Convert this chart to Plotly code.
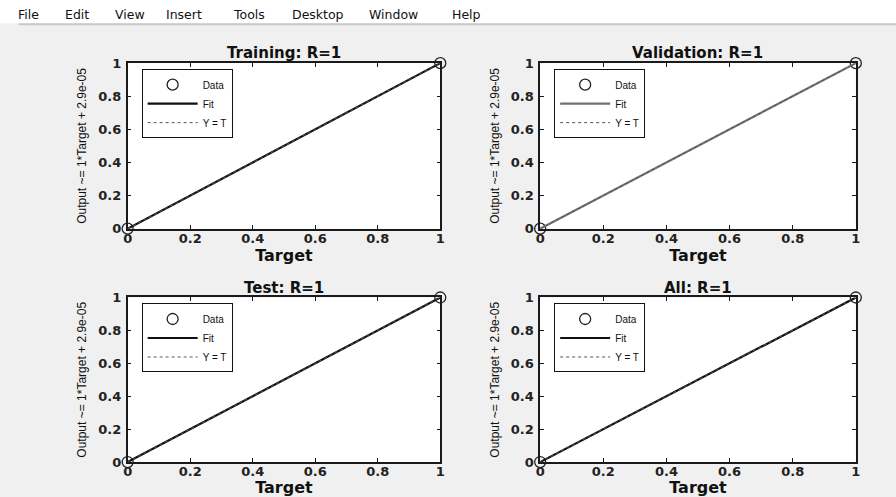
import plotly.graph_objects as go

# ---- data ----
panel_titles = ["Training: R=1", "Validation: R=1", "Test: R=1", "All: R=1"]
targets = [0, 1]
outputs = [0, 1]
fit_x = [0, 1]
fit_y = [2.9e-05, 1.000029]
yt_x = [0, 1]
yt_y = [0, 1]
fit_colors = ["#111111", "#707070", "#111111", "#111111"]
tick_vals = [0, 0.2, 0.4, 0.6, 0.8, 1]
tick_text = ["0", "0.2", "0.4", "0.6", "0.8", "1"]
y_label = "Output ~= 1*Target + 2.9e-05"
x_label = "Target"
menu_items = ["File", "Edit", "View", "Insert", "Tools", "Desktop", "Window", "Help"]
menu_x_px = [15, 62, 112, 163, 230, 290, 367, 450]

W, H = 896, 497

# panel pixel boxes (left, right, top, bottom) in the target picture
boxes = [(127, 440, 63, 229), (540, 856, 63, 229),
         (127, 440, 298, 463), (540, 856, 298, 463)]

# calibration of the plotting area as it is photographed
SX, OX = 0.990, 4.2
SY, OY = 0.9725, 6.7

def px_x(p):
    return ((p - OX) / SX) / W

def px_y(p):
    return (H - (p - OY) / SY) / H

fig = go.Figure()
layout = dict(
    width=W, height=H,
    margin=dict(l=0, r=0, t=0, b=0),
    paper_bgcolor="#f0f0f0",
    plot_bgcolor="white",
    showlegend=True,
)

tick_font = dict(family="DejaVu Sans", size=13, color="#222222", weight="bold")
annotations = []
shapes = []

for i, (l, r, t, b) in enumerate(boxes):
    n = i + 1
    sx = "" if n == 1 else str(n)
    leg = "legend" if n == 1 else "legend%d" % n
    xa, ya = "x" + sx, "y" + sx
    fig.add_trace(go.Scatter(
        x=targets, y=outputs, mode="markers", name="Data",
        marker=dict(symbol="circle-open", size=11, color="#222222",
                    line=dict(width=1.3)),
        cliponaxis=False, xaxis=xa, yaxis=ya, legend=leg))
    fig.add_trace(go.Scatter(
        x=fit_x, y=fit_y, mode="lines", name="Fit",
        line=dict(color=fit_colors[i], width=2.2),
        cliponaxis=False, xaxis=xa, yaxis=ya, legend=leg))
    fig.add_trace(go.Scatter(
        x=yt_x, y=yt_y, mode="lines", name="Y = T",
        line=dict(color="#555555", width=1, dash="dot"),
        cliponaxis=False, xaxis=xa, yaxis=ya, legend=leg))

    axis_common = dict(
        range=[0, 1], tickvals=tick_vals, ticktext=tick_text,
        showline=True, linecolor="#1a1a1a", linewidth=1.5, mirror="ticks",
        ticks="inside", ticklen=4, tickcolor="#1a1a1a", tickwidth=1,
        showgrid=False, zeroline=False, tickfont=tick_font,
    )
    layout["xaxis" + sx] = dict(
        axis_common, domain=[px_x(l), px_x(r)], anchor=ya,
        ticklabelstandoff=-3,
        title=dict(text=x_label, standoff=0,
                   font=dict(family="DejaVu Sans", size=16, color="#111111", weight="bold")))
    layout["yaxis" + sx] = dict(
        axis_common, domain=[px_y(b), px_y(t)], anchor=xa,
        ticklabelstandoff=2,
        title=dict(text=y_label, standoff=9,
                   font=dict(family="Liberation Sans Narrow, Liberation Sans, Arial, sans-serif",
                             size=12, color="#111111")))
    layout[leg] = dict(
        x=px_x(l + 14), y=px_y(t + 6), xanchor="left", yanchor="top",
        bgcolor="white", bordercolor="#111111", borderwidth=1,
        font=dict(family="Liberation Sans, Arial, sans-serif", size=10, color="#111111"),
        itemwidth=50, tracegroupgap=0,
    )
    annotations.append(dict(
        text=panel_titles[i], x=px_x((l + r) / 2), y=px_y(t - 10),
        xref="paper", yref="paper", showarrow=False,
        xanchor="center", yanchor="middle",
        font=dict(family="DejaVu Sans", size=15, color="#111111", weight="bold")))

# menu bar
shapes.append(dict(type="rect", xref="paper", yref="paper", x0=-0.05, x1=1.05,
                   y0=px_y(23), y1=1.1, fillcolor="white", line=dict(width=0), layer="below"))
shapes.append(dict(type="line", xref="paper", yref="paper", x0=px_x(18), x1=1.05,
                   y0=px_y(24), y1=px_y(24), line=dict(color="#c8c8c8", width=2)))
for name, mx in zip(menu_items, menu_x_px):
    annotations.append(dict(
        text=name, x=px_x(mx), y=px_y(14), xref="paper", yref="paper",
        showarrow=False, xanchor="left", yanchor="middle",
        font=dict(family="DejaVu Sans", size=12.5, color="#111111")))

layout["annotations"] = annotations
layout["shapes"] = shapes
fig.update_layout(**layout)
fig.write_html(
    "out.html",
    config={"displayModeBar": False},
    post_script=(
        "document.documentElement.style.margin='0';"
        "document.body.style.margin='0';"
        "document.body.style.overflow='hidden';"
        "var d=document.getElementById('{plot_id}');"
        "d.style.position='fixed';d.style.left='0px';d.style.top='0px';"
    ),
)
